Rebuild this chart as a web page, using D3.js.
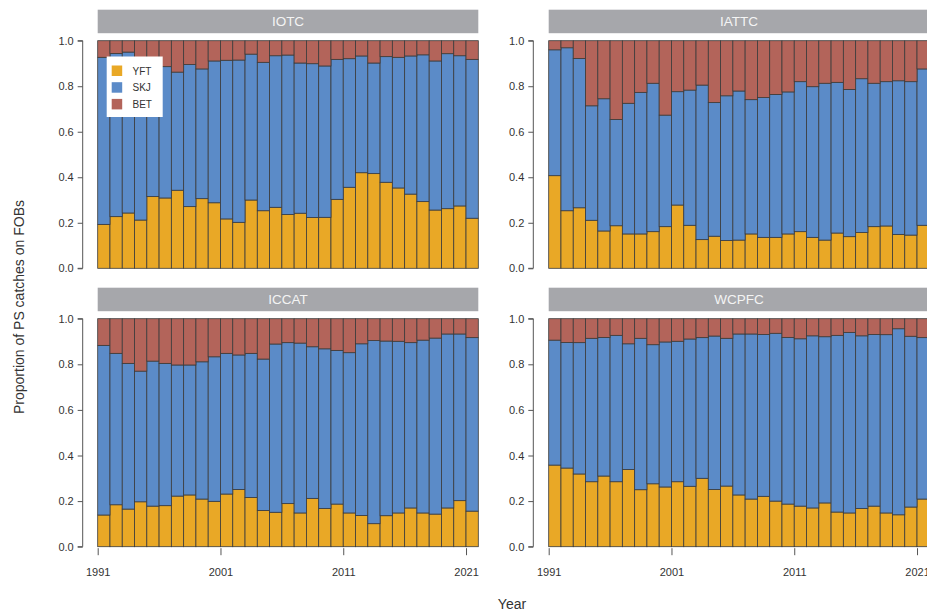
<!DOCTYPE html>
<html>
<head>
<meta charset="utf-8">
<script src="https://cdn.jsdelivr.net/npm/d3@7"></script>
<style>
  html, body { margin: 0; padding: 0; background: #fff; }
  svg { display: block; font-family: "Liberation Sans", Arial, sans-serif; }
</style>
</head>
<body>
<svg id="chart" width="927" height="612"></svg>
<script>
// Purse-seine catches on floating objects: species proportions by year and RFMO
const years = d3.range(1991, 2022);
const species = ["YFT", "SKJ", "BET"];
const regions = ["IOTC", "IATTC", "ICCAT", "WCPFC"];
const yTicks = [0, 0.2, 0.4, 0.6, 0.8, 1.0];
const xTicks = [1991, 2001, 2011, 2021];

const iotcYFT = [0.193,0.227,0.243,0.212,0.315,0.309,0.343,0.271,0.306,0.288,0.217,0.202,0.300,0.253,0.268,0.236,0.242,0.223,0.224,0.303,0.356,0.420,0.416,0.378,0.353,0.326,0.293,0.256,0.262,0.274,0.220];
const iotcSKJ = [0.734,0.717,0.707,0.693,0.585,0.577,0.519,0.624,0.570,0.623,0.697,0.713,0.641,0.652,0.666,0.701,0.660,0.676,0.665,0.615,0.565,0.513,0.486,0.552,0.574,0.607,0.645,0.655,0.681,0.660,0.698];
const iotcBET = [0.073,0.056,0.050,0.095,0.100,0.114,0.138,0.105,0.124,0.089,0.086,0.085,0.059,0.095,0.066,0.063,0.098,0.101,0.111,0.082,0.079,0.067,0.098,0.070,0.073,0.067,0.062,0.089,0.057,0.066,0.082];

const iattcYFT = [0.407,0.253,0.266,0.211,0.164,0.187,0.151,0.151,0.161,0.183,0.278,0.189,0.126,0.141,0.122,0.124,0.151,0.136,0.136,0.151,0.161,0.136,0.124,0.155,0.139,0.157,0.183,0.186,0.149,0.146,0.189];
const iattcSKJ = [0.553,0.716,0.656,0.503,0.581,0.467,0.574,0.622,0.652,0.490,0.498,0.594,0.679,0.587,0.636,0.655,0.590,0.614,0.628,0.624,0.659,0.662,0.689,0.662,0.647,0.676,0.630,0.634,0.675,0.674,0.687];
const iattcBET = [0.040,0.031,0.078,0.286,0.255,0.346,0.275,0.227,0.187,0.327,0.224,0.217,0.195,0.272,0.242,0.221,0.259,0.250,0.236,0.225,0.180,0.202,0.187,0.183,0.214,0.167,0.187,0.180,0.176,0.180,0.124];

const iccatYFT = [0.139,0.184,0.165,0.197,0.178,0.180,0.222,0.227,0.209,0.199,0.231,0.251,0.216,0.159,0.151,0.189,0.148,0.212,0.168,0.187,0.148,0.137,0.101,0.136,0.148,0.170,0.148,0.143,0.170,0.202,0.156];
const iccatSKJ = [0.744,0.664,0.639,0.573,0.636,0.624,0.575,0.570,0.602,0.634,0.617,0.590,0.632,0.664,0.738,0.706,0.745,0.665,0.700,0.674,0.703,0.753,0.803,0.766,0.753,0.725,0.758,0.772,0.763,0.731,0.761];
const iccatBET = [0.117,0.152,0.196,0.230,0.186,0.196,0.203,0.203,0.189,0.167,0.152,0.159,0.152,0.177,0.111,0.105,0.107,0.123,0.132,0.139,0.149,0.110,0.096,0.098,0.099,0.105,0.094,0.085,0.067,0.067,0.083];

const wcpfcYFT = [0.358,0.345,0.319,0.285,0.310,0.285,0.339,0.250,0.276,0.262,0.285,0.265,0.300,0.251,0.266,0.227,0.209,0.221,0.200,0.187,0.178,0.170,0.192,0.152,0.148,0.168,0.178,0.148,0.140,0.174,0.209];
const wcpfcSKJ = [0.548,0.551,0.576,0.629,0.608,0.642,0.551,0.664,0.610,0.636,0.616,0.646,0.617,0.673,0.648,0.706,0.724,0.710,0.736,0.731,0.734,0.755,0.729,0.775,0.792,0.757,0.753,0.782,0.816,0.749,0.708];
const wcpfcBET = [0.094,0.104,0.105,0.086,0.082,0.073,0.110,0.086,0.114,0.102,0.099,0.089,0.083,0.076,0.086,0.067,0.067,0.069,0.064,0.082,0.088,0.075,0.079,0.073,0.060,0.075,0.069,0.070,0.044,0.077,0.083];

const seriesByRegion = {
  IOTC:  [iotcYFT, iotcSKJ, iotcBET],
  IATTC: [iattcYFT, iattcSKJ, iattcBET],
  ICCAT: [iccatYFT, iccatSKJ, iccatBET],
  WCPFC: [wcpfcYFT, wcpfcSKJ, wcpfcBET]
};

const colors = { YFT: "#E9A826", SKJ: "#5B8BC8", BET: "#B3645A" };

const svg = d3.select("#chart");

// panel frames: left/right/top/bottom edges of each plotting region
const panels = [
  { name: "IOTC",  x0: 97.7,  x1: 478.3, y0: 40.7,  y1: 268.3, axisX: 82.7,  bottomAxis: false, legend: true },
  { name: "IATTC", x0: 548.7, x1: 929.3, y0: 40.7,  y1: 268.3, axisX: 533.3, bottomAxis: false, legend: false },
  { name: "ICCAT", x0: 97.7,  x1: 478.3, y0: 318.7, y1: 546.7, axisX: 82.7,  bottomAxis: true,  legend: false },
  { name: "WCPFC", x0: 548.7, x1: 929.3, y0: 318.7, y1: 546.7, axisX: 533.3, bottomAxis: true,  legend: false }
];

panels.forEach(p => {
  const g = svg.append("g");
  const x = d3.scaleLinear().domain([1991, 2022]).range([p.x0, p.x1]);
  const y = d3.scaleLinear().domain([0, 1]).range([p.y1, p.y0]);

  const rows = years.map((yr, i) => {
    const r = { year: yr };
    species.forEach((s, k) => r[s] = seriesByRegion[p.name][k][i]);
    return r;
  });
  const stacked = d3.stack().keys(species)(rows);

  // strip header
  g.append("rect")
    .attr("x", p.x0).attr("y", p.y0 - 31)
    .attr("width", p.x1 - p.x0).attr("height", 23.5)
    .attr("fill", "#A6A7AB");
  g.append("text")
    .attr("x", (p.x0 + p.x1) / 2).attr("y", p.y0 - 19.2)
    .attr("text-anchor", "middle").attr("dominant-baseline", "central")
    .attr("fill", "#F4F4F4").attr("font-size", 13.5)
    .text(p.name);

  // stacked bars
  g.selectAll("g.layer").data(stacked).join("g")
    .attr("class", "layer")
    .attr("fill", d => colors[d.key])
    .selectAll("rect").data(d => d).join("rect")
      .attr("x", d => x(d.data.year))
      .attr("width", d => x(d.data.year + 1) - x(d.data.year))
      .attr("y", d => y(d[1]))
      .attr("height", d => y(d[0]) - y(d[1]))
      .attr("stroke", "#3b3b3b")
      .attr("stroke-width", 0.8);

  // y axis
  const ya = g.append("g")
    .attr("transform", `translate(${p.axisX},0)`)
    .call(d3.axisLeft(y).tickValues(yTicks).tickFormat(d3.format(".1f")).tickSize(5).tickPadding(4));
  ya.selectAll("path, line").attr("stroke", "#555");
  ya.selectAll("text").attr("fill", "#333").attr("font-size", 11)
    .attr("font-family", "Liberation Sans, Arial, sans-serif");
  ya.select("path.domain").attr("d", `M-5,${y(1)}H0V${y(0)}H-5`);

  // x axis (bottom row only)
  if (p.bottomAxis) {
    const xa = g.append("g")
      .attr("transform", `translate(0,${p.y1 + 1.5})`)
      .call(d3.axisBottom(x).tickValues(xTicks).tickFormat(d3.format("d")).tickSize(7).tickPadding(13));
    xa.select("path.domain").remove();
    xa.selectAll("line").attr("stroke", "#555");
    xa.selectAll("text").attr("fill", "#333").attr("font-size", 11)
      .attr("font-family", "Liberation Sans, Arial, sans-serif");
  }

  // legend
  if (p.legend) {
    const lg = g.append("g");
    lg.append("rect")
      .attr("x", 106.7).attr("y", 56.5).attr("width", 56).attr("height", 60.5)
      .attr("fill", "#fff");
    species.forEach((s, k) => {
      lg.append("rect")
        .attr("x", 111.7).attr("y", 65.5 + k * 16.7)
        .attr("width", 10.5).attr("height", 10.5)
        .attr("fill", colors[s]);
      lg.append("text")
        .attr("x", 132.5).attr("y", 71 + k * 16.7)
        .attr("dominant-baseline", "central")
        .attr("font-size", 10).attr("fill", "#333")
        .text(s);
    });
  }
});

// shared axis titles
svg.append("text")
  .attr("transform", "translate(19,307) rotate(-90)")
  .attr("text-anchor", "middle").attr("dominant-baseline", "central")
  .attr("font-size", 14).attr("fill", "#333")
  .text("Proportion of PS catches on FOBs");
svg.append("text")
  .attr("x", 512).attr("y", 604)
  .attr("text-anchor", "middle").attr("dominant-baseline", "central")
  .attr("font-size", 14).attr("fill", "#333")
  .text("Year");
</script>
</body>
</html>
